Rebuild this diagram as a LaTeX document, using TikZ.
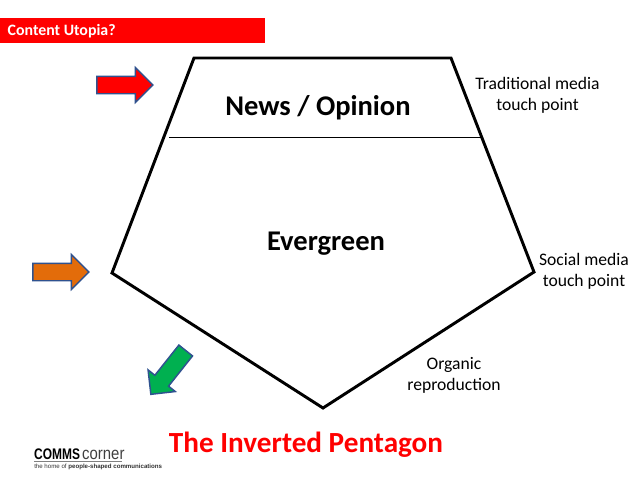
\documentclass[tikz,border=0pt]{standalone}
\usepackage{fontspec}
\setmainfont{Carlito}
\newfontfamily\logofont{Liberation Sans}
\usetikzlibrary{shapes.arrows}
\definecolor{arrowblue}{HTML}{2F528F}
\definecolor{arroworange}{HTML}{E36C0A}
\definecolor{arrowgreen}{HTML}{00B050}
\tikzset{
	touch/.style={single arrow,draw=arrowblue,line width=1.1pt,minimum height=42pt,minimum width=25pt,single arrow head extend=6.5pt,single arrow head indent=0pt,inner sep=6pt,outer sep=0pt},
	note/.style={align=center,font=\fontsize{13.2pt}{16pt}\selectfont},
	heading/.style={font=\fontsize{21.4pt}{24pt}\selectfont\bfseries}
}
\begin{document}
\begin{tikzpicture}[x=0.75pt,y=-0.75pt]
	\useasboundingbox (0,0) rectangle (640,480);
	\fill[white] (0,0) rectangle (640,480);
	\fill[red] (0,18) rectangle (265,43);
	\node[anchor=west,text=white,font=\fontsize{11.9pt}{13pt}\selectfont\bfseries] (title) at (3,31){Content Utopia?};
	\coordinate (topleft) at (194,58);
	\coordinate (topright) at (451,58);
	\coordinate (right) at (534,272);
	\coordinate (bottom) at (323,408);
	\coordinate (left) at (112,273);
	\coordinate (splitleft) at (169,137);
	\coordinate (splitright) at (482,137);
	\draw[line width=2.2pt,line join=miter] (topleft)--(topright)--(right)--(bottom)--(left)--cycle;
	\draw[line width=0.6pt] (splitleft)--(splitright);
	\node[heading] (news) at (318,108){News / Opinion};
	\node[heading] (evergreen) at (326,244){Evergreen};
	\node[touch,fill=red] (redarrow) at (120.5,85){};
	\node[touch,fill=arroworange] (orangearrow) at (56.5,272){};
	\node[touch,fill=arrowgreen,rotate=231.5] (greenarrow) at (171,369){};
	\node[note] (traditional) at (537.5,95){Traditional media\\touch point};
	\node[note] (social) at (584,271.5){Social media\\touch point};
	\node[note] (organic) at (454,375.5){Organic\\reproduction};
	\node[text=red,font=\fontsize{21.9pt}{27pt}\selectfont\bfseries] (pentagon) at (306,445){The Inverted Pentagon};
	\node[anchor=base west,inner sep=0pt,xscale=0.78,font=\logofont\fontsize{11.5pt}{14pt}\selectfont\bfseries] (comms) at (34,459){COMMS};
	\node[anchor=base west,inner sep=0pt,xscale=0.86,text=black!75,font=\logofont\fontsize{13pt}{14pt}\selectfont] (corner) at (82,459){corner};
	\draw[gray,line width=0.4pt] (34,461.5)--(122,461.5);
	\node[anchor=base west,inner sep=0pt,text=black!80,font=\logofont\fontsize{4.6pt}{5pt}\selectfont] (tagline) at (34,468){the home of \textbf{people-shaped communications}};
\end{tikzpicture}
\end{document}
